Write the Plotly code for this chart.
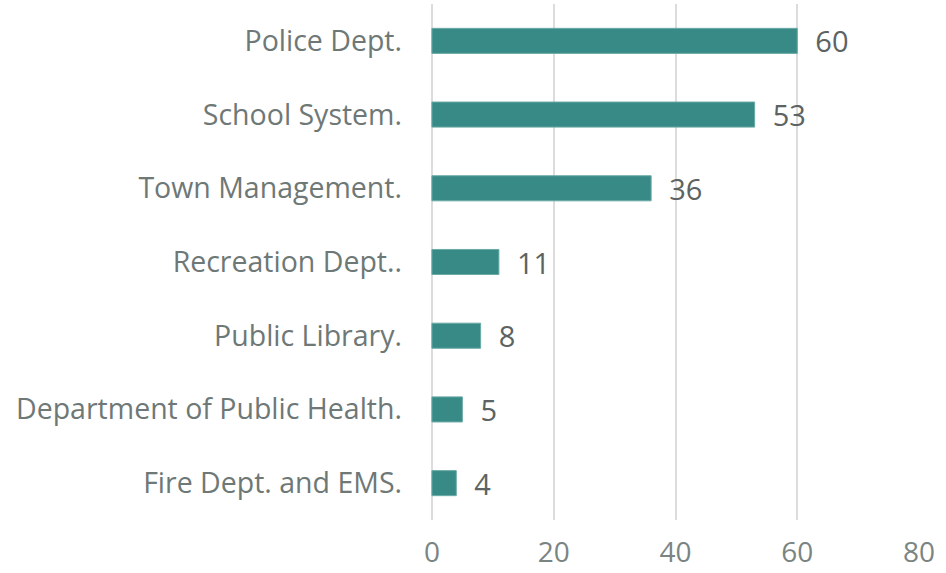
import plotly.graph_objects as go

categories = ["Police Dept.", "School System.", "Town Management.", "Recreation Dept..",
              "Public Library.", "Department of Public Health.", "Fire Dept. and EMS."]
values = [60, 53, 36, 11, 8, 5, 4]
tick_vals = [0, 20, 40, 60, 80]

FONT = "Open Sans"

fig = go.Figure(go.Bar(
    x=values, y=categories, orientation="h",
    marker=dict(color="#388a86", line=dict(color="#6aaaa6", width=1)),
    text=values, texttemplate="  %{x}", textposition="outside",
    constraintext="none",
    textfont=dict(size=29, color="#5c6362", family=FONT),
    cliponaxis=False, width=0.34,
))

fig.update_layout(
    width=946, height=573,
    margin=dict(l=431, r=26, t=4, b=53, autoexpand=False),
    paper_bgcolor="white", plot_bgcolor="white",
    showlegend=False,
    font=dict(family=FONT, color="#6e7876"),
    xaxis=dict(range=[-0.15, 80.15], tickvals=tick_vals, showgrid=True, gridcolor="#dcdcdc",
               gridwidth=1.5, zeroline=True, zerolinecolor="#dcdcdc", zerolinewidth=1.5,
               showline=False, automargin=False,
               tickfont=dict(size=28, color="#7a8482"), ticklabelstandoff=13),
    yaxis=dict(categoryorder="array", categoryarray=categories[::-1],
               showgrid=False, showline=False, zeroline=False, automargin=False,
               tickfont=dict(size=28.5, color="#6e7876"), ticklabelstandoff=28),
)

fig.write_html("out.html", config={"displayModeBar": False})

with open("out.html", "r", encoding="utf-8") as f:
    html = f.read()
html = html.replace("<body>", '<body style="margin:0;padding:0;overflow:hidden">', 1)
with open("out.html", "w", encoding="utf-8") as f:
    f.write(html)
